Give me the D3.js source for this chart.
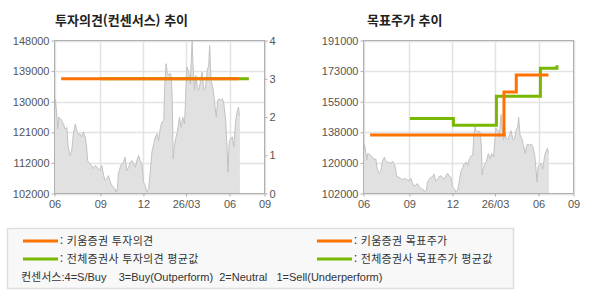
<!DOCTYPE html>
<html lang="ko">
<head>
<meta charset="UTF-8">
<title>투자의견 / 목표주가 추이</title>
<script src="https://d3js.org/d3.v7.min.js"></script>
<style>
  body { margin: 0; background: #fff; }
  text { font-family: "Liberation Sans", Arial, sans-serif; }
  .kr { font-family: "Noto Sans CJK KR", sans-serif; }
  .mix { font-family: "Liberation Sans", "Noto Sans CJK KR", sans-serif; }
</style>
</head>
<body>
<div id="chart"></div>
<script>
// 주가 (회색 영역)
const priceDates = ["2025-05-27","2025-05-29","2025-05-31","2025-06-03","2025-06-05","2025-06-09","2025-06-15","2025-06-18","2025-06-22","2025-06-25",
  "2025-06-29","2025-07-02","2025-07-06","2025-07-10","2025-07-13","2025-07-17","2025-07-20","2025-07-24","2025-07-27","2025-07-31",
  "2025-08-03","2025-08-05","2025-08-10","2025-08-14","2025-08-17","2025-08-21","2025-08-25","2025-08-28","2025-08-31","2025-09-04",
  "2025-09-08","2025-09-11","2025-09-15","2025-09-18","2025-09-22","2025-09-25","2025-09-29","2025-10-02","2025-10-04","2025-10-07",
  "2025-10-09","2025-10-13","2025-10-16","2025-10-20","2025-10-23","2025-10-27","2025-10-31","2025-11-03","2025-11-07","2025-11-10",
  "2025-11-14","2025-11-17","2025-11-21","2025-11-24","2025-11-28","2025-12-01","2025-12-05","2025-12-08","2025-12-12","2025-12-15",
  "2025-12-19","2025-12-23","2025-12-26","2025-12-30","2026-01-02","2026-01-06","2026-01-09","2026-01-13","2026-01-15","2026-01-18",
  "2026-01-20","2026-01-23","2026-01-27","2026-01-29","2026-01-31","2026-02-02","2026-02-04","2026-02-08","2026-02-11","2026-02-15",
  "2026-02-19","2026-02-22","2026-02-26","2026-02-28","2026-03-03","2026-03-07","2026-03-10","2026-03-14","2026-03-16","2026-03-19",
  "2026-03-22","2026-03-25","2026-03-28","2026-04-01","2026-04-04","2026-04-08","2026-04-11","2026-04-15","2026-04-18","2026-04-20",
  "2026-04-23","2026-04-27","2026-04-30","2026-05-04","2026-05-07","2026-05-10","2026-05-13","2026-05-17","2026-05-20","2026-05-24",
  "2026-05-27","2026-05-29","2026-05-31","2026-06-03","2026-06-07","2026-06-10","2026-06-14","2026-06-17","2026-06-20","2026-06-22",
  "2026-06-23"];
const priceValues = [126200,130400,127400,121700,125200,124700,123200,121700,122100,116300,
  113800,114800,120300,123200,121100,119900,120300,119300,120800,119300,
  116300,112300,111300,110800,109900,110800,110300,109900,109300,110800,
  107800,106400,106900,107800,105900,104900,104400,103900,102900,103900,
  108300,110300,111300,111800,113300,109300,110300,111800,112300,111300,
  110300,112300,113800,112300,111300,105900,104900,102900,103900,108300,
  114800,117300,119300,120300,118300,122200,123700,124200,134100,141100,
  138600,137600,138300,137100,130200,112800,116300,119300,120800,125200,
  122200,125200,123200,130200,140100,138600,135100,148000,140100,133200,
  137600,134100,133200,136100,138600,133200,133700,139100,140600,146500,
  136100,133700,130200,125200,130200,130700,130200,130700,129200,124200,
  115300,108800,117300,118800,119300,116300,124200,126700,128200,125700,
  125700];

// 투자의견 (4=S/Buy 3=Buy 2=Neutral 1=Sell)
const kiwoomOpinionDates = ["2025-06-10", "2026-06-21"];
const kiwoomOpinionValues = [3, 3];
const avgOpinionDates = ["2025-09-02", "2026-07-12"];
const avgOpinionValues = [3, 3];

// 목표주가
const kiwoomTargetDates = ["2025-06-10", "2026-03-20", "2026-04-15", "2026-06-22"];
const kiwoomTargetValues = [136000, 161000, 171000, 171000];
const avgTargetDates = ["2025-09-02", "2025-12-03", "2026-03-04", "2026-06-05", "2026-07-10", "2026-07-13"];
const avgTargetValues = [145600, 141700, 158600, 174900, 175700, 175700];

// 축 라벨
const xTickDates = ["2025-05-27", "2025-09-01", "2025-12-01", "2026-03-01", "2026-06-01", "2026-08-14"];
const xTickLabels = ["06", "09", "12", "26/03", "06", "09"];
const opinionTickLabels = ["0", "1", "2", "3", "4"];
const leftPriceLabels = ["102000", "112000", "121000", "130000", "139000", "148000"];
const rightPriceLabels = ["102000", "120000", "138000", "155000", "173000", "191000"];

const orange = "#ff7200";
const green = "#78b800";
const parse = d3.timeParse("%Y-%m-%d");

const svg = d3.select("#chart").append("svg")
  .attr("width", 590)
  .attr("height", 300);

function zip(dates, values) {
  return dates.map((d, i) => ({ date: parse(d), value: values[i] }));
}

const price = zip(priceDates, priceValues);

function drawPanel(cfg) {
  const x = d3.scaleTime()
    .domain([parse(xTickDates[0]), parse(xTickDates[xTickDates.length - 1])])
    .range([cfg.x0, cfg.x1]);
  const y = d3.scaleLinear().domain(cfg.priceDomain).range([cfg.y1, cfg.y0]);
  const [lo, hi] = cfg.priceDomain;
  const yTicks = d3.range(cfg.priceLabels.length).map(i => lo + i * (hi - lo) / (cfg.priceLabels.length - 1));

  const g = svg.append("g");

  // 제목
  g.append("text")
    .attr("class", "kr")
    .attr("x", cfg.titleX)
    .attr("y", 25)
    .attr("font-size", "13px")
    .attr("font-weight", "bold")
    .attr("fill", "#222")
    .text(cfg.title);

  // 그리드
  g.append("g").selectAll("line").data(yTicks).join("line")
    .attr("x1", cfg.x0).attr("x2", cfg.x1)
    .attr("y1", d => Math.round(y(d)) + 0.5).attr("y2", d => Math.round(y(d)) + 0.5)
    .attr("stroke", "#e3e3e3").attr("stroke-width", 1.5);
  g.append("g").selectAll("line").data(xTickDates.map(parse)).join("line")
    .attr("x1", d => Math.round(x(d)) + 0.5).attr("x2", d => Math.round(x(d)) + 0.5)
    .attr("y1", cfg.y0).attr("y2", cfg.y1)
    .attr("stroke", "#e3e3e3").attr("stroke-width", 1.5);

  // 주가 영역
  const area = d3.area().x(d => x(d.date)).y0(cfg.y1).y1(d => y(d.value));
  const line = d3.line().x(d => x(d.date)).y(d => y(d.value));
  g.append("path").datum(price).attr("d", area).attr("fill", "#e1e1e1");
  g.append("path").datum(price).attr("d", line)
    .attr("fill", "none").attr("stroke", "#c2c2c2").attr("stroke-width", 1);

  // 테두리
  g.append("rect")
    .attr("x", cfg.x0).attr("y", cfg.y0)
    .attr("width", cfg.x1 - cfg.x0).attr("height", cfg.y1 - cfg.y0)
    .attr("fill", "none").attr("stroke", "#b0b0b0");

  // 축
  const axisLeft = d3.axisLeft(y).tickValues(yTicks)
    .tickFormat((d, i) => cfg.priceLabels[i]).tickSize(3).tickPadding(2);
  const axisBottom = d3.axisBottom(x).tickValues(xTickDates.map(parse))
    .tickFormat((d, i) => xTickLabels[i]).tickSize(3).tickPadding(4);
  styleAxis(g.append("g").attr("transform", `translate(${cfg.x0},0)`).call(axisLeft));
  styleAxis(g.append("g").attr("transform", `translate(0,${cfg.y1})`).call(axisBottom));

  return { g, x, y };
}

function styleAxis(sel) {
  sel.select(".domain").remove();
  sel.selectAll("line").attr("stroke", "#b0b0b0");
  sel.selectAll("text")
    .attr("fill", "#555")
    .attr("font-size", "11px")
    .attr("font-family", "Liberation Sans, Arial, sans-serif");
}

function stepLine(g, x, y, data, color) {
  g.append("path").datum(data)
    .attr("d", d3.line().curve(d3.curveStepAfter).x(d => x(d.date)).y(d => y(d.value)))
    .attr("fill", "none")
    .attr("stroke", color)
    .attr("stroke-width", 3);
}

// 왼쪽: 투자의견(컨센서스) 추이
const left = drawPanel({
  title: "투자의견(컨센서스) 추이", titleX: 55,
  x0: 54.5, x1: 264.5, y0: 40.5, y1: 193.5,
  priceDomain: [102500, 148000], priceLabels: leftPriceLabels
});
const yOpinion = d3.scaleLinear().domain([0, 4]).range([193.5, 40.5]);
styleAxis(left.g.append("g").attr("transform", "translate(264.5,0)")
  .call(d3.axisRight(yOpinion).ticks(4).tickFormat((d, i) => opinionTickLabels[i]).tickSize(3).tickPadding(2)));
stepLine(left.g, left.x, yOpinion, zip(avgOpinionDates, avgOpinionValues), green);
stepLine(left.g, left.x, yOpinion, zip(kiwoomOpinionDates, kiwoomOpinionValues), orange);

// 오른쪽: 목표주가 추이
const right = drawPanel({
  title: "목표주가 추이", titleX: 367,
  x0: 363.5, x1: 573.5, y0: 40.5, y1: 193.5,
  priceDomain: [102000, 191000], priceLabels: rightPriceLabels
});
stepLine(right.g, right.x, right.y, zip(avgTargetDates, avgTargetValues), green);
stepLine(right.g, right.x, right.y, zip(kiwoomTargetDates, kiwoomTargetValues), orange);

// 범례
const legend = svg.append("g");
legend.append("rect")
  .attr("x", 7.5).attr("y", 228.5).attr("width", 506).attr("height", 60)
  .attr("fill", "#f8f8f8").attr("stroke", "#dedede").attr("stroke-width", 1.5);

const legendItems = [
  { label: ": 키움증권 투자의견", color: orange, x: 23, y: 241 },
  { label: ": 전체증권사 투자의견 평균값", color: green, x: 23, y: 259 },
  { label: ": 키움증권 목표주가", color: orange, x: 317, y: 241 },
  { label: ": 전체증권사 목표주가 평균값", color: green, x: 317, y: 259 }
];
legend.selectAll("line").data(legendItems).join("line")
  .attr("x1", d => d.x).attr("x2", d => d.x + 35)
  .attr("y1", d => d.y).attr("y2", d => d.y)
  .attr("stroke", d => d.color).attr("stroke-width", 3);
legend.selectAll("text.item").data(legendItems).join("text")
  .attr("class", "item kr")
  .attr("x", d => d.x + 37).attr("y", d => d.y + 4)
  .attr("font-size", "11px").attr("fill", "#333")
  .style("letter-spacing", "0.3px")
  .text(d => d.label);
legend.append("text")
  .attr("class", "mix")
  .attr("x", 21).attr("y", 281)
  .attr("font-size", "11px").attr("fill", "#333")
  .style("white-space", "pre")
  .text("컨센서스:4=S/Buy    3=Buy(Outperform)  2=Neutral   1=Sell(Underperform)");
</script>
</body>
</html>
